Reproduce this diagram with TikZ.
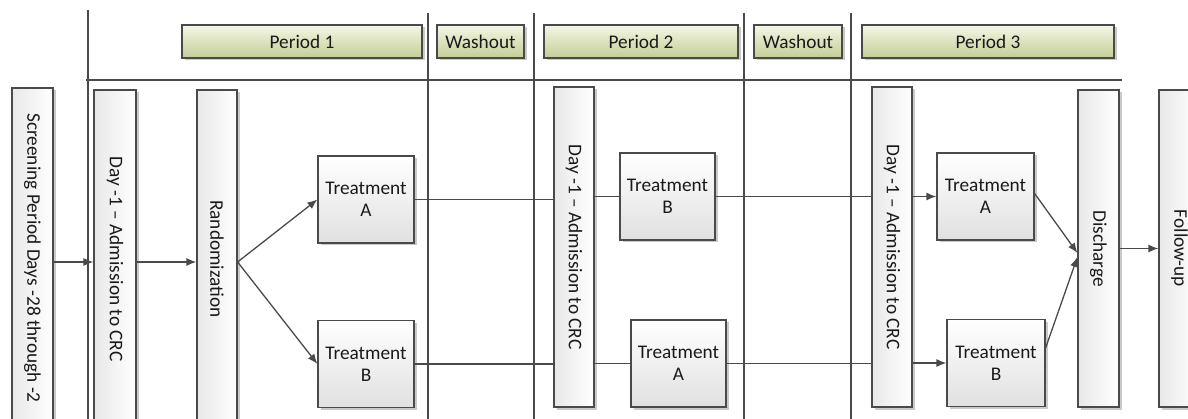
\documentclass[tikz,border=0pt]{standalone}
\usepackage{fontspec}
\setmainfont{Carlito}
\usetikzlibrary{arrows.meta,shadows}
\definecolor{edge}{HTML}{4A4A4A}
\definecolor{hdrtop}{HTML}{F4F7E6}
\definecolor{hdrbot}{HTML}{C3CE96}
\definecolor{txt}{HTML}{1A1A1A}
\begin{document}
\begin{tikzpicture}[x=1pt,y=-1pt, font=\fontsize{19.3}{22}\selectfont, text=txt,
 box/.style={draw=edge, line width=1.2pt, inner sep=0pt,
   drop shadow={shadow xshift=2.5pt,shadow yshift=-2.5pt,opacity=0.35,fill=black!60}},
 hdr/.style={box, top color=hdrtop, bottom color=hdrbot, minimum height=33},
 vbox/.style={box, left color=black!9, right color=white, minimum width=41},
 tbox/.style={box, top color=white, bottom color=black!12, minimum width=96, minimum height=87, align=center},
 vtext/.style={rotate=-90, inner sep=0pt},
 grid/.style={draw=edge, line width=1.5pt},
 conn/.style={draw=edge, line width=1.3pt},
 arr/.style={conn, -{Latex[length=10pt,width=8pt]}}]
\useasboundingbox (0,0) rectangle (1188,419);
% grid
\draw[grid] (88,10) -- (88,430);
\draw[grid] (86,80) -- (1122,80);
\foreach \x in {428,534,744,851} \draw[grid] (\x,13) -- (\x,430);
% headers
\node[hdr, minimum width=240] (p1) at (302,41.5) {Period 1};
\node[hdr, minimum width=87] (w1) at (480.5,41.5) {Washout};
\node[hdr, minimum width=194] (p2) at (641,41.5) {Period 2};
\node[hdr, minimum width=88] (w2) at (798,41.5) {Washout};
\node[hdr, minimum width=252] (p3) at (988,41.5) {Period 3};
% vertical boxes
\node[vbox, minimum height=340] (scr) at (32.5,258) {};
\node[vtext] (scrT) at (scr.center) {Screening Period Days -28 through -2};
\node[vbox, minimum width=42, minimum height=338] (d1) at (115,259) {};
\node[vtext] (d1T) at (d1.center) {Day -1 – Admission to CRC};
\node[vbox, minimum width=40, minimum height=338] (rnd) at (217,259) {};
\node[vtext] (rndT) at (rnd.center) {Randomization};
\node[vbox, minimum width=40, minimum height=320] (d2) at (574,247) {};
\node[vtext] (d2T) at (d2.center) {Day -1 – Admission to CRC};
\node[vbox, minimum width=40, minimum height=320] (d3) at (892,247) {};
\node[vtext] (d3T) at (d3.center) {Day -1 – Admission to CRC};
\node[vbox, minimum height=317] (dis) at (1098.5,248.5) {};
\node[vtext] (disT) at (dis.center) {Discharge};
\node[vbox, minimum height=317] (fu) at (1179.5,248.5) {};
\node[vtext] (fuT) at (fu.center) {Follow-up};
% treatments
\node[tbox] (tA1) at (366,199.5) {Treatment\\A};
\node[tbox] (tB1) at (366,364) {Treatment\\B};
\node[tbox, minimum width=95] (tB2) at (667.5,196.5) {Treatment\\B};
\node[tbox, minimum width=95] (tA2) at (678.5,363.5) {Treatment\\A};
\node[tbox, minimum width=97] (tA3) at (985.5,196.5) {Treatment\\A};
\node[tbox, minimum width=98] (tB3) at (996,363) {Treatment\\B};
% connectors
\coordinate (r1) at (0,262);
\draw[arr] (scr.east |- r1) -- (d1.west |- r1);
\draw[arr] (d1.east |- r1) -- (rnd.west |- r1);
\draw[arr] (rnd.east |- r1) -- (tA1.west);
\draw[arr] (rnd.east |- r1) -- (tB1.west);
\draw[conn] (tA1.east) -- (d2.west |- tA1.east);
\draw[conn] (d2.east |- tB2.west) -- (tB2.west);
\draw[conn] (tB2.east) -- (d3.west |- tB2.east);
\draw[conn] (tB1.east) -- (d2.west |- tB1.east);
\draw[conn] (d2.east |- tA2.west) -- (tA2.west);
\draw[conn] (tA2.east) -- (d3.west |- tA2.east);
\draw[arr] (d3.east |- tA3.west) -- (tA3.west);
\draw[arr] (d3.east |- tB3.west) -- (tB3.west);
\draw[arr] ([yshift=3pt]tA3.east) -- ([yshift=-4.5pt]dis.west);
\draw[arr] ([yshift=15pt]tB3.east) -- ([yshift=-8.5pt]dis.west);
\draw[arr] (dis.east) -- (fu.west);
\end{tikzpicture}
\end{document}
